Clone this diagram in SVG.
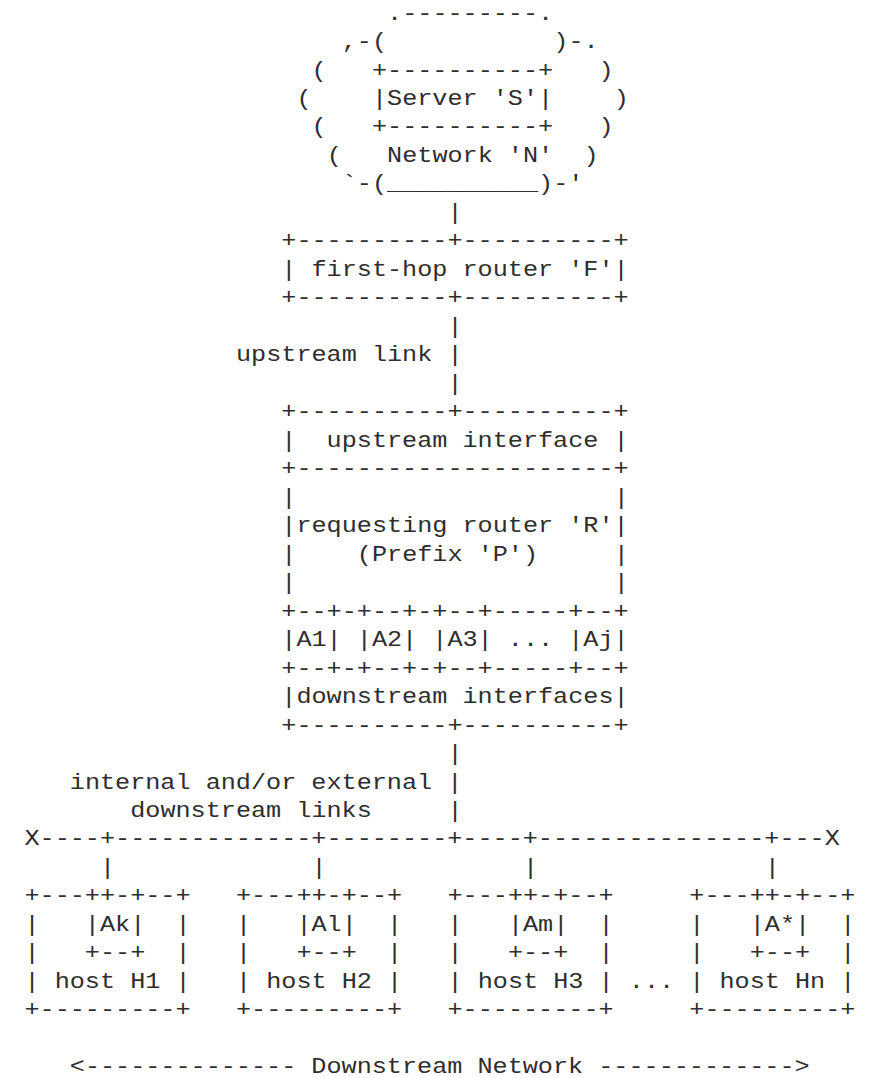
<svg xmlns="http://www.w3.org/2000/svg" width="869" height="1078" viewBox="0 0 869 1078" xml:space="preserve">
<style>
text{font-family:"Liberation Mono","DejaVu Sans Mono",monospace;font-size:22px;fill:#2e2e2e;white-space:pre}
</style>
<rect x="0" y="0" width="869" height="1078" fill="#ffffff"/>
<g id="diagram" transform="scale(1.1447 1)">
<g id="network-N">
<text x="338.16" y="19.56">.---------.</text>
<text x="298.56" y="48.04">,-(</text>
<text x="483.36" y="48.04">)-.</text>
<text x="272.16" y="76.52">(</text>
<text x="522.96" y="76.52">)</text>
<text x="258.96" y="105">(</text>
<text x="536.16" y="105">)</text>
<text x="272.16" y="133.48">(</text>
<text x="522.96" y="133.48">)</text>
<text x="285.36" y="161.96">(</text>
<text x="338.16" y="161.96">Network 'N'</text>
<text x="509.76" y="161.96">)</text>
<text x="298.56" y="190.44">`-(__________)-'</text>
</g>
<g id="server-S">
<text x="324.96" y="76.52">+----------+</text>
<text x="324.96" y="105">|Server 'S'|</text>
<text x="324.96" y="133.48">+----------+</text>
</g>
<g id="router-F">
<text x="245.76" y="247.4">+----------+----------+</text>
<text x="245.76" y="275.88">| first-hop router 'F'|</text>
<text x="245.76" y="304.36">+----------+----------+</text>
</g>
<g id="router-R">
<text x="245.76" y="418.28">+----------+----------+</text>
<text x="245.76" y="446.76">|  upstream interface |</text>
<text x="245.76" y="475.24">+---------------------+</text>
<text x="245.76" y="503.72">|</text>
<text x="536.16" y="503.72">|</text>
<text x="245.76" y="532.2">|requesting router 'R'|</text>
<text x="245.76" y="560.68">|</text>
<text x="311.76" y="560.68">(Prefix 'P')</text>
<text x="536.16" y="560.68">|</text>
<text x="245.76" y="589.16">|</text>
<text x="536.16" y="589.16">|</text>
<text x="245.76" y="617.64">+--+-+--+-+--+-----+--+</text>
<text x="245.76" y="646.12">|A1| |A2| |A3| ... |Aj|</text>
<text x="245.76" y="674.6">+--+-+--+-+--+-----+--+</text>
<text x="245.76" y="703.08">|downstream interfaces|</text>
<text x="245.76" y="731.56">+----------+----------+</text>
</g>
<g id="connectors">
<text x="390.96" y="218.92">|</text>
<text x="390.96" y="332.84">|</text>
<text x="206.16" y="361.32">upstream link |</text>
<text x="390.96" y="389.8">|</text>
<text x="390.96" y="760.04">|</text>
<text x="60.96" y="788.52">internal and/or external |</text>
<text x="113.76" y="817">downstream links</text>
<text x="390.96" y="817">|</text>
<text x="21.36" y="845.48">X----+-------------+--------+----+---------------+---X</text>
<text x="87.36" y="873.96">|</text>
<text x="272.16" y="873.96">|</text>
<text x="456.96" y="873.96">|</text>
<text x="668.16" y="873.96">|</text>
</g>
<g id="host-H1">
<text x="21.36" y="902.44">+---++-+--+</text>
<text x="21.36" y="930.92">|   |Ak|  |</text>
<text x="21.36" y="959.4">|   +--+  |</text>
<text x="21.36" y="987.88">| host H1 |</text>
<text x="21.36" y="1016.36">+---------+</text>
</g>
<g id="host-H2">
<text x="206.16" y="902.44">+---++-+--+</text>
<text x="206.16" y="930.92">|   |Al|  |</text>
<text x="206.16" y="959.4">|   +--+  |</text>
<text x="206.16" y="987.88">| host H2 |</text>
<text x="206.16" y="1016.36">+---------+</text>
</g>
<g id="host-H3">
<text x="390.96" y="902.44">+---++-+--+</text>
<text x="390.96" y="930.92">|   |Am|  |</text>
<text x="390.96" y="959.4">|   +--+  |</text>
<text x="390.96" y="987.88">| host H3 |</text>
<text x="390.96" y="1016.36">+---------+</text>
</g>
<g id="host-ellipsis">
<text x="549.36" y="987.88">...</text>
</g>
<g id="host-Hn">
<text x="602.16" y="902.44">+---++-+--+</text>
<text x="602.16" y="930.92">|   |A*|  |</text>
<text x="602.16" y="959.4">|   +--+  |</text>
<text x="602.16" y="987.88">| host Hn |</text>
<text x="602.16" y="1016.36">+---------+</text>
</g>
<g id="downstream-network-label">
<text x="60.96" y="1073.32">&lt;-------------- Downstream Network -------------&gt;</text>
</g>
</g>
</svg>
